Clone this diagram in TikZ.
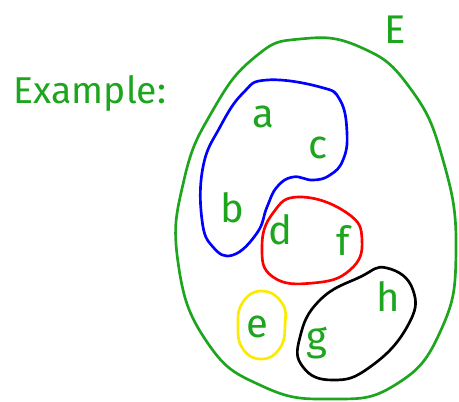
\documentclass[tikz,border=0pt]{standalone}
\usepackage{fontspec}
\setmainfont{Fira Sans}
\usepackage{tikz}
\definecolor{penGreen}{RGB}{30,165,30}
\definecolor{penYellow}{RGB}{250,235,0}
\def\universe{plot[smooth cycle,tension=0.8] coordinates {(300,39) (360,47) (410,88) (443,160) (456,250) (441,330) (395,385) (330,399) (262,386) (207,342) (178,262) (184,180) (213,110) (255,57)}}
\def\blueset{plot[smooth cycle,tension=0.75] coordinates {(267,80) (320,87) (340,100) (347,133) (343,160) (330,175) (313,180) (293,177) (277,187) (267,207) (257,233) (233,255) (213,247) (202,220) (203,167) (220,127) (243,93)}}
\def\redset{plot[smooth cycle,tension=0.8] coordinates {(300,197) (347,213) (362,240) (350,270) (313,283) (273,277) (262,247) (273,213)}}
\def\yellowset{plot[smooth cycle,tension=0.8] coordinates {(262,291) (282,303) (285,325) (280,348) (262,359) (243,349) (238,325) (243,302)}}
\def\blackset{plot[smooth cycle,tension=0.8] coordinates {(387,268) (413,290) (407,327) (370,367) (333,380) (303,367) (300,337) (320,300) (360,277)}}

\begin{document}
\begin{tikzpicture}[x=0.75pt,y=-0.75pt,
  pen/.style={line width=2pt,line join=round},
  elem/.style={text=penGreen,inner sep=0pt,font=\fontsize{30}{34}\selectfont}]
  \useasboundingbox (0,0) rectangle (459,401);
  \draw[pen,penGreen] \universe;
  \draw[pen,blue] \blueset;
  \draw[pen,red] \redset;
  \draw[pen,penYellow] \yellowset;
  \draw[pen,black] \blackset;
  \node[elem,font=\fontsize{28}{32}\selectfont] (title) at (90,93) {Example:};
  \node[elem] (E) at (395,30) {E};
  \node[elem] (a) at (263,117) {a};
  \node[elem] (c) at (318,148) {c};
  \node[elem] (b) at (232,208) {b};
  \node[elem] (d) at (280,230) {d};
  \node[elem] (f) at (343,240) {f};
  \node[elem] (h) at (388,297) {h};
  \node[elem] (e) at (257,327) {e};
  \node[elem] (g) at (317,343) {g};
\end{tikzpicture}
\end{document}
